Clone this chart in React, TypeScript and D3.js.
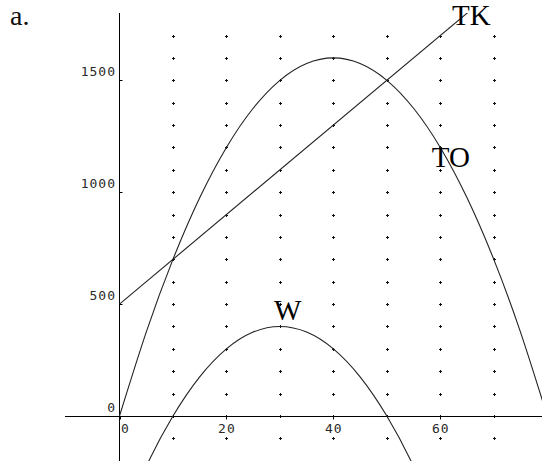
import React from "react";
import * as d3 from "d3";

// Data
const xs = [0, 5, 10, 15, 20, 25, 30, 35, 40, 45, 50, 55, 60, 65, 70, 75, 80];
const toValues = [0, 375, 700, 975, 1200, 1375, 1500, 1575, 1600, 1575, 1500, 1375, 1200, 975, 700, 375, 0];
const wXs = [0, 5, 10, 15, 20, 25, 30, 35, 40, 45, 50, 55, 60];
const wValues = [-500, -225, 0, 175, 300, 375, 400, 375, 300, 175, 0, -225, -500];
const tkXs = [0, 80];
const tkValues = [500, 2100];
const xTicks = [0, 20, 40, 60];
const yTicks = [0, 500, 1000, 1500];
const gridXs = [10, 20, 30, 40, 50, 60, 70];
const gridYs = [-100, 0, 100, 200, 300, 400, 500, 600, 700, 800, 900, 1000, 1100, 1200, 1300, 1400, 1500, 1600, 1700];
const labels = [
  { text: "TK", x: 62.2, y: 1745 },
  { text: "TO", x: 58.4, y: 1112 },
  { text: "W", x: 28.9, y: 428 },
];

const W = 542;
const H = 461;

export default function App() {
  const x = d3.scaleLinear().domain([0, 60]).range([119.5, 440.3]);
  const y = d3.scaleLinear().domain([0, 1500]).range([416, 80.3]);

  const line = d3
    .line<[number, number]>()
    .x((d) => x(d[0]))
    .y((d) => y(d[1]))
    .curve(d3.curveNatural);

  const toPath = line(xs.map((v, i) => [v, toValues[i]] as [number, number])) || "";
  const wPath = line(wXs.map((v, i) => [v, wValues[i]] as [number, number])) || "";
  const tkPath =
    d3
      .line<[number, number]>()
      .x((d) => x(d[0]))
      .y((d) => y(d[1]))(tkXs.map((v, i) => [v, tkValues[i]] as [number, number])) || "";

  const x0 = Math.round(x(0)) + 0.5 - 1;
  const y0 = Math.round(y(0)) + 0.5;
  const tickFont = {
    fontFamily: "'DejaVu Sans Mono', monospace",
    fontSize: 13,
    letterSpacing: 1,
    fill: "#2a2a2a",
  } as const;

  return (
    <svg
      width={W}
      height={H}
      style={{ position: "absolute", left: 0, top: 0, background: "#fff" }}
    >
      <defs>
        <clipPath id="plot">
          <rect x={65} y={13} width={W - 65} height={H - 13} />
        </clipPath>
      </defs>
      <rect x={0} y={0} width={W} height={H} fill="#fff" />
      <text x={10} y={25} fontFamily="'Liberation Serif', serif" fontSize={28} fill="#111">
        a.
      </text>
      {/* grid dots */}
      {gridXs.map((gx) =>
        gridYs.map((gy) => {
          const cx = Math.round(x(gx));
          const cy = Math.round(y(gy));
          return (
            <g key={`${gx}-${gy}`} fill="#111">
              <rect x={cx - 1} y={cy} width={3} height={1} />
              <rect x={cx} y={cy - 1} width={1} height={3} />
            </g>
          );
        })
      )}
      {/* axes */}
      <line x1={65} x2={W} y1={y0} y2={y0} stroke="#000" strokeWidth={1} />
      <line x1={x0} x2={x0} y1={13} y2={H} stroke="#000" strokeWidth={1} />
      {yTicks.map((t) => (
        <g key={`y${t}`}>
          <line x1={x0} x2={x0 + 3} y1={Math.round(y(t)) + 0.5} y2={Math.round(y(t)) + 0.5} stroke="#000" />
          <text x={116} y={y(t) - 4} textAnchor="end" {...tickFont}>
            {t}
          </text>
        </g>
      ))}
      {xTicks.map((t) => (
        <g key={`x${t}`}>
          <line x1={Math.round(x(t)) + 0.5} x2={Math.round(x(t)) + 0.5} y1={y0} y2={y0 + 3} stroke="#000" />
          <text x={t === 0 ? x(t) + 6 : x(t) + 0.5} y={433} textAnchor="middle" {...tickFont}>
            {t}
          </text>
        </g>
      ))}
      {/* curves */}
      <g clipPath="url(#plot)" fill="none" stroke="#222" strokeWidth={1.1}>
        <path d={toPath} />
        <path d={wPath} />
        <path d={tkPath} />
      </g>
      {labels.map((l) => (
        <text key={l.text} x={x(l.x)} y={y(l.y)} fontFamily="'Liberation Serif', serif" fontSize={29} fill="#000">
          {l.text}
        </text>
      ))}
    </svg>
  );
}
